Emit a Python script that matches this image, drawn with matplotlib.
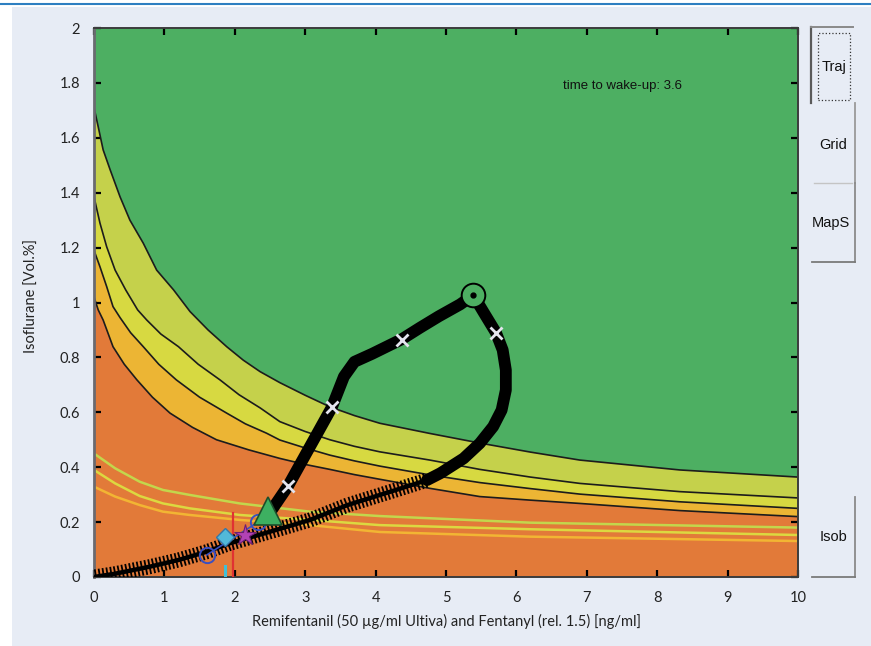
import matplotlib
matplotlib.use("Agg")
import matplotlib.pyplot as plt
import matplotlib.patheffects as pe
from matplotlib.patches import Rectangle
from matplotlib.lines import Line2D
import numpy as np

# isoboles (x: opioid ng/ml, y: isoflurane vol%)
iso1_x = [0.0, 0.06, 0.13, 0.23, 0.37, 0.51, 0.70, 0.89, 1.13, 1.364, 1.62, 1.885, 2.12, 2.36,
          2.64, 3.0, 3.35, 3.7, 4.06, 4.77, 5.48, 6.2, 6.9, 8.32, 10.0]
iso1_y = [1.71, 1.64, 1.556, 1.483, 1.385, 1.30, 1.216, 1.118, 1.046, 0.967, 0.90, 0.839, 0.79, 0.748,
          0.708, 0.662, 0.62, 0.588, 0.56, 0.523, 0.488, 0.455, 0.426, 0.39, 0.364]
iso2_x = [0.0, 0.085, 0.18, 0.30, 0.45, 0.62, 0.75, 0.95, 1.2, 1.48, 1.79, 2.06, 2.36, 2.64, 3.0,
          3.35, 3.7, 4.06, 4.77, 5.48, 6.2, 6.9, 8.32, 10.0]
iso2_y = [1.385, 1.289, 1.203, 1.118, 1.046, 0.973, 0.936, 0.885, 0.839, 0.775, 0.718, 0.664, 0.616,
          0.566, 0.53, 0.50, 0.476, 0.456, 0.426, 0.392, 0.364, 0.341, 0.311, 0.288]
iso3_x = [0.0, 0.085, 0.18, 0.27, 0.37, 0.52, 0.70, 0.92, 1.17, 1.5, 1.885, 2.15, 2.45, 2.64, 3.0,
          3.35, 3.7, 4.06, 4.77, 5.48, 6.2, 6.9, 8.32, 10.0]
iso3_y = [1.19, 1.13, 1.058, 0.985, 0.945, 0.89, 0.839, 0.775, 0.718, 0.655, 0.597, 0.558, 0.524,
          0.499, 0.47, 0.444, 0.423, 0.404, 0.372, 0.344, 0.322, 0.302, 0.274, 0.25]
iso4_x = [0.0, 0.06, 0.13, 0.27, 0.43, 0.61, 0.83, 1.08, 1.4, 1.74, 2.2, 2.64, 3.0, 3.35, 3.7,
          4.06, 4.77, 5.48, 6.2, 6.9, 8.32, 10.0]
iso4_y = [1.02, 0.973, 0.936, 0.839, 0.775, 0.718, 0.655, 0.597, 0.545, 0.50, 0.463, 0.432, 0.41,
          0.392, 0.373, 0.356, 0.323, 0.293, 0.28, 0.268, 0.242, 0.22]

# second (lower) set of isoboles, drawn as coloured lines only
low_x = [0.0, 0.3, 0.65, 0.98, 1.36, 2.07, 3.07, 4.06, 6.19, 10.0]
lowA_y = [0.45, 0.396, 0.347, 0.317, 0.299, 0.268, 0.238, 0.222, 0.198, 0.18]
lowB_y = [0.39, 0.341, 0.295, 0.268, 0.25, 0.226, 0.208, 0.189, 0.174, 0.153]
lowC_y = [0.329, 0.293, 0.262, 0.238, 0.226, 0.208, 0.189, 0.164, 0.147, 0.131]

# trajectory: past part (ticked), then the predicted loop back
hist_x = [0.0, 0.3, 0.8, 1.2, 1.6, 1.93, 2.5, 3.07, 3.6, 4.3, 4.73]
hist_y = [0.0, 0.012, 0.038, 0.062, 0.092, 0.123, 0.165, 0.208, 0.262, 0.318, 0.353]
traj_x = [4.73, 4.92, 5.25, 5.48, 5.67, 5.79, 5.85, 5.85, 5.805, 5.71, 5.53, 5.388,
          5.2, 4.9, 4.63, 4.37, 3.95, 3.7, 3.55, 3.38, 2.76, 2.5]
traj_y = [0.353, 0.378, 0.432, 0.487, 0.548, 0.608, 0.681, 0.754, 0.827, 0.89, 0.966, 1.027,
          0.993, 0.95, 0.908, 0.866, 0.813, 0.784, 0.73, 0.619, 0.333, 0.235]
cross_x = [4.37, 5.71, 3.38, 2.76]
cross_y = [0.863, 0.89, 0.619, 0.333]
peak = (5.388, 1.027)
target = (2.47, 0.24)

blue_x = [1.6, 2.33]
blue_y = [0.08, 0.2]
diamond = (1.86, 0.147)
star = (2.14, 0.153)
red_x, red_top = 1.98, 0.232
cyan_x, cyan_top = 1.86, 0.04

wake_text = "time to wake-up: 3.6"

GREEN = "#4daf62"
OLIVE = "#c5d14b"
YELLOW = "#d7d941"
AMBER = "#ecb534"
ORANGE = "#e27a39"
BG = "#e7ecf5"

W, H = 871, 646
fig = plt.figure(figsize=(W / 100, H / 100), dpi=100, facecolor="white")


def fx(p):
    return p / W


def fy(p):
    return 1 - p / H


fig.add_artist(Rectangle((fx(12), 0), 1 - fx(12), fy(7), transform=fig.transFigure,
                         facecolor=BG, edgecolor="none", zorder=0))
fig.add_artist(Line2D([0, 1], [fy(4), fy(4)], transform=fig.transFigure, color="#2d7fc1", lw=1.5))

ax = fig.add_axes([fx(94), fy(577), fx(798) - fx(94), fy(28) - fy(577)])
ax.set_facecolor(ORANGE)

for xs, ys, col in [(iso4_x, iso4_y, AMBER), (iso3_x, iso3_y, YELLOW),
                    (iso2_x, iso2_y, OLIVE), (iso1_x, iso1_y, GREEN)]:
    ax.fill(np.r_[xs, 10, 0], np.r_[ys, 2, 2], color=col, lw=0, zorder=1)
for xs, ys in [(iso1_x, iso1_y), (iso2_x, iso2_y), (iso3_x, iso3_y), (iso4_x, iso4_y)]:
    ax.plot(xs, ys, color="#1c1c1c", lw=1.2, zorder=2, solid_joinstyle="round")

ax.plot(low_x, lowA_y, color="#c3d64c", lw=1.8, zorder=2)
ax.plot(low_x, lowB_y, color="#dcd840", lw=1.8, zorder=2)
ax.plot(low_x, lowC_y, color="#f2b533", lw=1.8, zorder=2)

ax.plot([red_x, red_x], [0, red_top], color="#e03232", lw=1.6, zorder=3)
ax.plot([cyan_x, cyan_x], [0, cyan_top], color="#3fc0d6", lw=2.2, zorder=3)

ticks = [pe.TickedStroke(angle=90, spacing=2.8, length=1.7, linewidth=1.3),
         pe.TickedStroke(angle=-90, spacing=2.8, length=1.7, linewidth=1.3),
         pe.Normal()]
ax.plot(hist_x, hist_y, color="black", lw=3.2, zorder=4, path_effects=ticks)
ax.plot(traj_x, traj_y, color="black", lw=8.5, zorder=4,
        solid_capstyle="round", solid_joinstyle="round")
ax.plot(cross_x, cross_y, "x", color="#e4e4ee", ms=9, mew=2, zorder=5)
ax.plot(*peak, "o", ms=17, mfc=GREEN, mec="black", mew=1.4, zorder=5)
ax.plot(*peak, "o", ms=3.5, color="black", zorder=6)

ax.plot(blue_x, blue_y, "-", color="#3a4fc0", lw=1.2, zorder=5)
ax.plot(blue_x, blue_y, "o", ms=11, mfc="none", mec="#3a4fc0", mew=1.4, zorder=5)
ax.plot(*diamond, "D", ms=9, mfc="#52b9d9", mec="#3576a8", mew=1, zorder=6)
ax.plot(*star, "*", ms=16, mfc="#b242b5", mec="#6e1f72", mew=0.8, zorder=6)
ax.plot(*target, "^", ms=20, mfc="#3db061", mec="#1d4f2b", mew=1.2, zorder=7)

ax.text(6.66, 1.79, wake_text, fontsize=9.5, family="Liberation Sans",
        ha="left", va="center", color="#111111")

ax.set_xlim(0, 10)
ax.set_ylim(0, 2)
ax.set_xticks(range(11))
ax.set_yticks(np.arange(0, 2.01, 0.2))
ax.set_yticklabels(["%g" % round(v, 1) for v in np.arange(0, 2.01, 0.2)])
ax.tick_params(direction="in", length=5, width=1.6, top=True, right=True,
               labelsize=10.5, pad=10, labelcolor="#222222")
for lab in ax.get_xticklabels() + ax.get_yticklabels():
    lab.set_family("Lato")
for sp in ax.spines.values():
    sp.set_color("#3c3c3c")
    sp.set_linewidth(1.4)
ax.spines["left"].set_color("#6a6a70")
ax.spines["left"].set_linewidth(2)

ax.set_xlabel("Remifentanil (50 \u00b5g/ml Ultiva) and Fentanyl (rel. 1.5) [ng/ml]",
              family="Lato", fontsize=10.5, color="#222222")
ax.set_ylabel("Isoflurane [Vol.%]", family="Lato", fontsize=10.5, color="#222222")
ax.xaxis.set_label_coords(0.5, -0.068)
ax.yaxis.set_label_coords(-0.078, 0.511)

# the side buttons of the GUI
def fline(x0, y0, x1, y1, col, lw=1.2, ls="-"):
    fig.add_artist(Line2D([fx(x0), fx(x1)], [fy(y0), fy(y1)], transform=fig.transFigure,
                          color=col, lw=lw, ls=ls))


fline(811, 27, 811, 103, "#5a5a5a", 1.6)
fline(811, 27, 853, 27, "#8a8a8a", 1.4)
fig.add_artist(Rectangle((fx(818), fy(100)), fx(850) - fx(818), fy(33) - fy(100),
                         transform=fig.transFigure, fill=False, ls=":", lw=0.9, ec="#333333"))
fline(855, 103, 855, 183, "#9a9a9a", 1.3)
fline(814, 183, 852, 183, "#c4c4c4", 1.0)
fline(855, 183, 855, 262, "#8a8a8a", 1.3)
fline(812, 262, 855, 262, "#7a7a7a", 1.3)
fline(855, 497, 855, 577, "#8a8a8a", 1.3)
fline(812, 577, 855, 577, "#7a7a7a", 1.3)

btn = dict(family="Liberation Sans", fontsize=10.5, ha="center", va="center", color="#111111")
fig.text(fx(834), fy(67), "Traj", **btn)
fig.text(fx(833), fy(145), "Grid", **btn)
t = fig.text(fx(831), fy(223), "MapS", **btn)
clip = Rectangle((fx(812), fy(262)), fx(855) - fx(812), fy(183) - fy(262),
                 transform=fig.transFigure, fill=False, lw=0)
fig.add_artist(clip)
t.set_clip_path(clip)
fig.text(fx(833), fy(537), "Isob", **btn)

fig.savefig("out.png", dpi=100, facecolor=fig.get_facecolor())
